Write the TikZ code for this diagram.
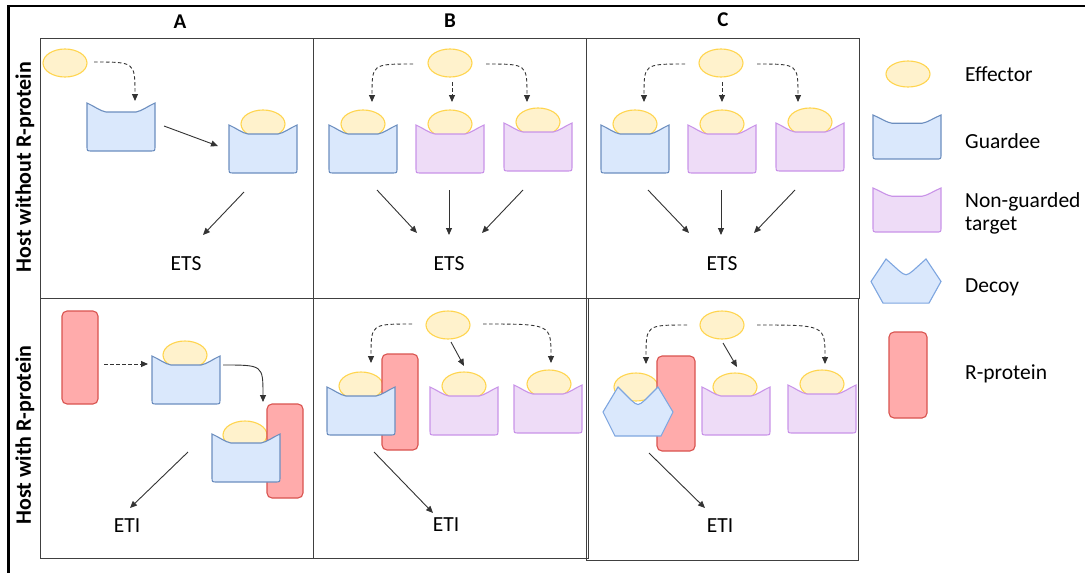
\documentclass[tikz,border=0pt]{standalone}
\usepackage{fontspec}
\setmainfont{Carlito}
\usetikzlibrary{arrows.meta,shapes.geometric}
\definecolor{effF}{HTML}{FFF2CC}
\definecolor{effD}{HTML}{FFD54F}
\definecolor{guardF}{HTML}{DAE8FC}
\definecolor{guardD}{HTML}{6C8EBF}
\definecolor{purpF}{HTML}{EEDCF7}
\definecolor{purpD}{HTML}{C993E8}
\definecolor{decD}{HTML}{7EA6E0}
\definecolor{rF}{HTML}{FFABAB}
\definecolor{rD}{HTML}{D9534F}
\definecolor{arrC}{HTML}{333333}
\definecolor{gridC}{HTML}{404040}
\tikzset{
  eff/.style={ellipse, draw=effD, fill=effF, line width=1.1pt, minimum width=44pt, minimum height=28pt, inner sep=0pt},
  guardsty/.style={draw=guardD, fill=guardF, line width=1.1pt},
  purpsty/.style={draw=purpD, fill=purpF, line width=1.1pt},
  decsty/.style={draw=decD, fill=guardF, line width=1.1pt},
  rprot/.style={draw=rD, fill=rF, line width=1.1pt, rounded corners=5pt, inner sep=0pt},
  pics/cup/.style={code={
    \path[#1] (0,0) .. controls (7,3) and (13,8) .. (19,9) -- (49,9) .. controls (55,8) and (61,3) .. (68,0)
      -- (68,43) .. controls (68,48) .. (63,48) -- (5,48) .. controls (0,48) .. (0,43) -- cycle;}},
  pics/decoy/.style={code={
    \path[#1] (0,25) -- (15,0) -- (28,13) .. controls (35,19) .. (42,13) -- (55,0) -- (70,25) -- (58,49) -- (12,49) -- cycle;}},
  arr/.style={draw=arrC, line width=0.9pt, -{Triangle[length=7pt,width=6pt]}},
  darr/.style={arr, dash pattern=on 3.5pt off 2.5pt},
  lbl/.style={font=\fontsize{21.5}{25}\selectfont, inner sep=0pt},
  hdr/.style={font=\bfseries\fontsize{21}{25}\selectfont, inner sep=0pt},
  rowlbl/.style={font=\bfseries\fontsize{22}{26}\selectfont, inner sep=0pt, rotate=90},
  panel/.style={draw=gridC, line width=1pt},
}
\begin{document}
\begin{tikzpicture}[x=1pt,y=-1pt]
\useasboundingbox (0,0) rectangle (1085,573);
% frame
\draw[line width=2.2pt] (8.5,573) -- (8.5,6) -- (1085,6);
% panels
\draw[panel] (40,38) rectangle (313,298);
\draw[panel] (313,38) rectangle (586,298);
\draw[panel] (586,38) rectangle (859,298);
\draw[panel] (40,298) rectangle (313,558);
\draw[panel] (313,298) rectangle (588,558);
\draw[panel] (586,298) rectangle (858,560);
% headers
\node[hdr, anchor=base] (hA) at (180,28) {A};
\node[hdr, anchor=base] (hB) at (450,27) {B};
\node[hdr, anchor=base] (hC) at (723,26) {C};
\node[rowlbl] (r1) at (25,167) {Host without R-protein};
\node[rowlbl] (r2) at (25,435) {Host with R-protein};

% ===== Panel A top =====
\node[eff] (eA) at (65,63) {};
\pic at (87,103) {cup=guardsty};
\node[eff] (eA2) at (263,124) {};
\pic at (229,125) {cup=guardsty};
\coordinate (eAo) at (94,62); \coordinate (gA1i) at (135,101);
\coordinate (gA1o) at (164,126); \coordinate (gA2i) at (218,146);
\coordinate (gA2o) at (244,192); \coordinate (etsAi) at (203,235);
\draw[darr] (eAo) .. controls (eAo -| gA1i) .. (gA1i);
\draw[arr] (gA1o) -- (gA2i);
\draw[arr] (gA2o) -- (etsAi);
\node[lbl, anchor=base] (etsA) at (186,270) {ETS};

% ===== Panel B top =====
\node[eff] (eB) at (450,63) {};
\node[eff] (eB1) at (363,124) {};
\node[eff] (eB2) at (450,124) {};
\node[eff] (eB3) at (538,122) {};
\pic at (329,125) {cup=guardsty};
\pic at (416,125) {cup=purpsty};
\pic at (504,123) {cup=purpsty};
\coordinate (eBl) at (413,64); \coordinate (tB1) at (372,102);
\coordinate (eBm) at (452,82); \coordinate (tB2) at (452,102);
\coordinate (eBr) at (486,64); \coordinate (tB3) at (527,102);
\draw[darr] (eBl) .. controls (eBl -| tB1) .. (tB1);
\draw[darr] (eBm) -- (tB2);
\draw[darr] (eBr) .. controls (eBr -| tB3) .. (tB3);
\coordinate (oB1) at (377,190); \coordinate (iB1) at (417,233);
\coordinate (oB2) at (449,190); \coordinate (iB2) at (449,235);
\coordinate (oB3) at (523,190); \coordinate (iB3) at (482,233);
\draw[arr] (oB1) -- (iB1);
\draw[arr] (oB2) -- (iB2);
\draw[arr] (oB3) -- (iB3);
\node[lbl, anchor=base] (etsB) at (449,270) {ETS};

% ===== Panel C top =====
\node[eff] (eC) at (721,63) {};
\node[eff] (eC1) at (635,124) {};
\node[eff] (eC2) at (722,124) {};
\node[eff] (eC3) at (810,122) {};
\pic at (601,125) {cup=guardsty};
\pic at (688,125) {cup=purpsty};
\pic at (776,123) {cup=purpsty};
\coordinate (eCl) at (685,64); \coordinate (tC1) at (644,102);
\coordinate (eCm) at (722,82); \coordinate (tC2) at (722,102);
\coordinate (eCr) at (757,64); \coordinate (tC3) at (798,102);
\draw[darr] (eCl) .. controls (eCl -| tC1) .. (tC1);
\draw[darr] (eCm) -- (tC2);
\draw[darr] (eCr) .. controls (eCr -| tC3) .. (tC3);
\coordinate (oC1) at (648,190); \coordinate (iC1) at (689,233);
\coordinate (oC2) at (721,190); \coordinate (iC2) at (721,235);
\coordinate (oC3) at (795,190); \coordinate (iC3) at (754,233);
\draw[arr] (oC1) -- (iC1);
\draw[arr] (oC2) -- (iC2);
\draw[arr] (oC3) -- (iC3);
\node[lbl, anchor=base] (etsC) at (722,270) {ETS};

% ===== Panel A bottom =====
\node[rprot, minimum width=36pt, minimum height=93pt] (RA1) at (80,357.5) {};
\node[eff] (eA3) at (185,355) {};
\pic at (152,356) {cup=guardsty};
\coordinate (RA1o) at (104,364); \coordinate (gA3i) at (148,364);
\draw[darr] (RA1o) -- (gA3i);
\coordinate (gA3o) at (223,365); \coordinate (gA4i) at (263,402);
\draw[arr] (gA3o) .. controls (gA3o -| gA4i) .. (gA4i);
\node[eff] (eA4) at (245,435) {};
\node[rprot, minimum width=36pt, minimum height=94pt] (RA2) at (285,451) {};
\pic at (212,434) {cup=guardsty};
\coordinate (gA4o) at (188,452); \coordinate (etiAi) at (130,508);
\draw[arr] (gA4o) -- (etiAi);
\node[lbl, anchor=base] (etiA) at (127,532) {ETI};

% ===== Panel B bottom =====
\node[eff] (eB4) at (448,325) {};
\node[eff] (eB5) at (361,386) {};
\node[eff] (eB6) at (464,386) {};
\node[eff] (eB7) at (549,384) {};
\node[rprot, minimum width=36pt, minimum height=96pt] (RB) at (400,402) {};
\pic at (327,387) {cup=guardsty};
\pic at (430,387) {cup=purpsty};
\pic at (514,385) {cup=purpsty};
\coordinate (eB4l) at (412,324); \coordinate (tB4) at (371,363);
\coordinate (eB4m) at (451,342); \coordinate (tB5) at (464,366);
\coordinate (eB4r) at (483,324); \coordinate (tB6) at (551,363);
\draw[darr] (eB4l) .. controls (eB4l -| tB4) .. (tB4);
\draw[arr] (eB4m) -- (tB5);
\draw[darr] (eB4r) .. controls (eB4r -| tB6) .. (tB6);
\coordinate (oB4) at (374,452); \coordinate (iB4) at (433,513);
\draw[arr] (oB4) -- (iB4);
\node[lbl, anchor=base] (etiB) at (446,531) {ETI};

% ===== Panel C bottom =====
\node[eff] (eC4) at (722,325) {};
\node[eff] (eC5) at (636,387) {};
\node[eff] (eC6) at (735,387) {};
\node[eff] (eC7) at (822,384) {};
\node[rprot, minimum width=38pt, minimum height=95pt] (RC) at (676,403.5) {};
\pic at (603,387) {decoy=decsty};
\pic at (702,387) {cup=purpsty};
\pic at (788,385) {cup=purpsty};
\coordinate (eC4l) at (687,325); \coordinate (tC4) at (646,364);
\coordinate (eC4m) at (723,343); \coordinate (tC5) at (737,367);
\coordinate (eC4r) at (757,325); \coordinate (tC6) at (825,364);
\draw[darr] (eC4l) .. controls (eC4l -| tC4) .. (tC4);
\draw[arr] (eC4m) -- (tC5);
\draw[darr] (eC4r) .. controls (eC4r -| tC6) .. (tC6);
\coordinate (oC4) at (649,453); \coordinate (iC4) at (705,508);
\draw[arr] (oC4) -- (iC4);
\node[lbl, anchor=base] (etiC) at (720,532) {ETI};

% ===== Legend =====
\node[eff, minimum height=26pt] (LE) at (908,74) {};
\pic[yscale=0.917] at (873,115) {cup=guardsty};
\pic[yscale=0.917] at (873,188) {cup=purpsty};
\pic[yscale=0.9] at (871,259) {decoy=decsty};
\node[rprot, minimum width=38pt, minimum height=86pt] (LR) at (908,375) {};
\node[lbl, anchor=base west] (tE) at (965,81) {Effector};
\node[lbl, anchor=base west] (tG) at (965,148) {Guardee};
\node[lbl, anchor=base west] (tN1) at (965,207) {Non-guarded};
\node[lbl, anchor=base west] (tN2) at (965,230) {target};
\node[lbl, anchor=base west] (tD) at (965,292) {Decoy};
\node[lbl, anchor=base west] (tR) at (965,379) {R-protein};
\end{tikzpicture}
\end{document}
